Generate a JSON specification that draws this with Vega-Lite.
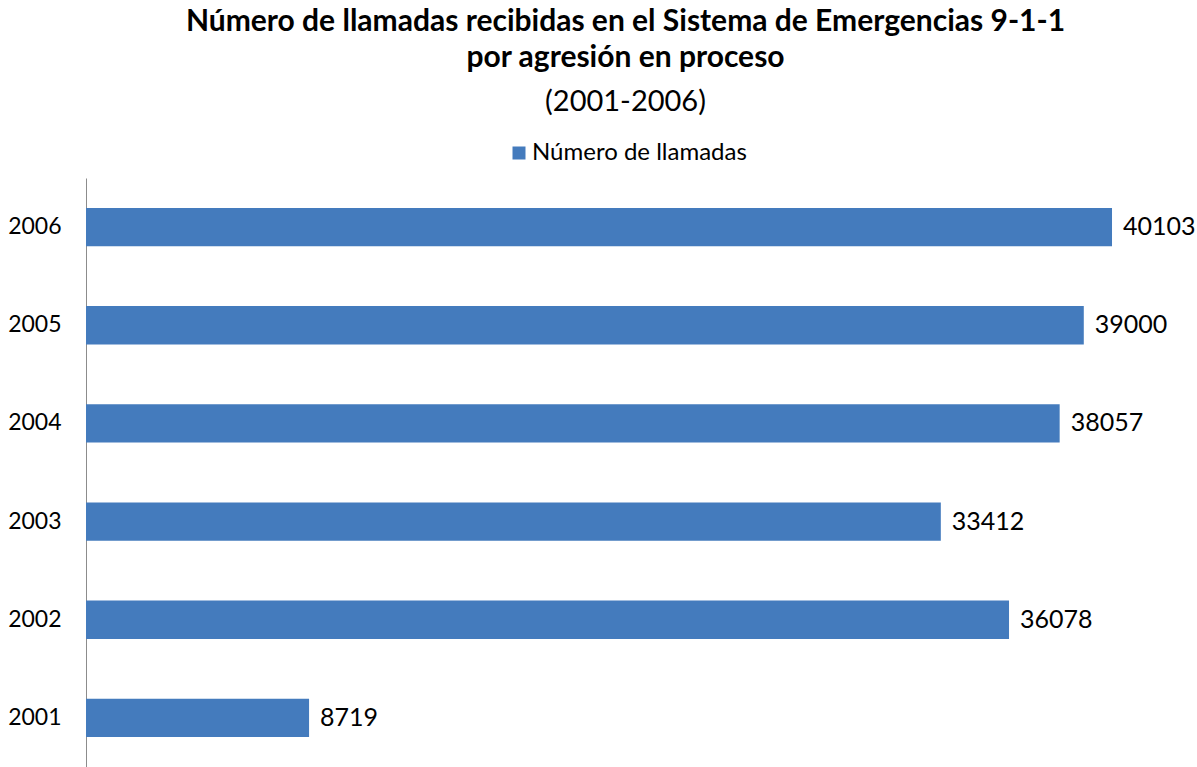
{
  "$schema": "https://vega.github.io/schema/vega-lite/v6.json",
  "autosize": "none",
  "width": 1111,
  "height": 589,
  "padding": {"left": 86, "top": 178, "right": 0, "bottom": 0},
  "background": "white",
  "config": {"view": {"stroke": null}, "font": "Lato"},
  "title": {
    "text": ["Número de llamadas recibidas en el Sistema de Emergencias 9-1-1", "por agresión en proceso"],
    "subtitle": "(2001-2006)",
    "anchor": "middle",
    "frame": "group",
    "dx": -16,
    "offset": 24,
    "font": "Lato",
    "fontSize": 30,
    "fontWeight": "bold",
    "color": "black",
    "lineHeight": 36,
    "subtitleFont": "Lato",
    "subtitleFontSize": 29,
    "subtitleColor": "black",
    "subtitleLineHeight": 36,
    "subtitlePadding": 15
  },
  "data": {
    "values": [
      {"anio": "2006", "llamadas": 40103, "serie": "Número de llamadas"},
      {"anio": "2005", "llamadas": 39000, "serie": "Número de llamadas"},
      {"anio": "2004", "llamadas": 38057, "serie": "Número de llamadas"},
      {"anio": "2003", "llamadas": 33412, "serie": "Número de llamadas"},
      {"anio": "2002", "llamadas": 36078, "serie": "Número de llamadas"},
      {"anio": "2001", "llamadas": 8719, "serie": "Número de llamadas"}
    ]
  },
  "encoding": {
    "y": {
      "field": "anio",
      "type": "nominal",
      "sort": ["2006", "2005", "2004", "2003", "2002", "2001"],
      "scale": {"paddingInner": 0.61, "paddingOuter": 0.305},
      "axis": {
        "title": null,
        "ticks": false,
        "grid": false,
        "domainColor": "#8c8c8c",
        "domainWidth": 1,
        "labelFont": "Lato",
        "labelFontSize": 23,
        "labelColor": "black",
        "labelPadding": 25
      }
    },
    "x": {
      "field": "llamadas",
      "type": "quantitative",
      "scale": {"domain": [0, 43425], "nice": false},
      "axis": null
    }
  },
  "layer": [
    {
      "mark": {"type": "bar", "color": "#447bbd"},
      "encoding": {
        "color": {
          "field": "serie",
          "type": "nominal",
          "scale": {"range": ["#447bbd"]},
          "legend": {
            "title": null,
            "orient": "none",
            "legendX": 421,
            "legendY": -37,
            "symbolType": "square",
            "symbolSize": 169,
            "symbolStrokeWidth": 0,
            "labelFont": "Lato",
            "labelFontSize": 24,
            "labelColor": "black",
            "labelOffset": 1,
            "labelLimit": 0
          }
        }
      }
    },
    {
      "mark": {"type": "text", "align": "left", "baseline": "middle", "dx": 11, "font": "Lato", "fontSize": 25, "color": "black"},
      "encoding": {"text": {"field": "llamadas", "type": "quantitative", "format": "d"}}
    }
  ]
}
